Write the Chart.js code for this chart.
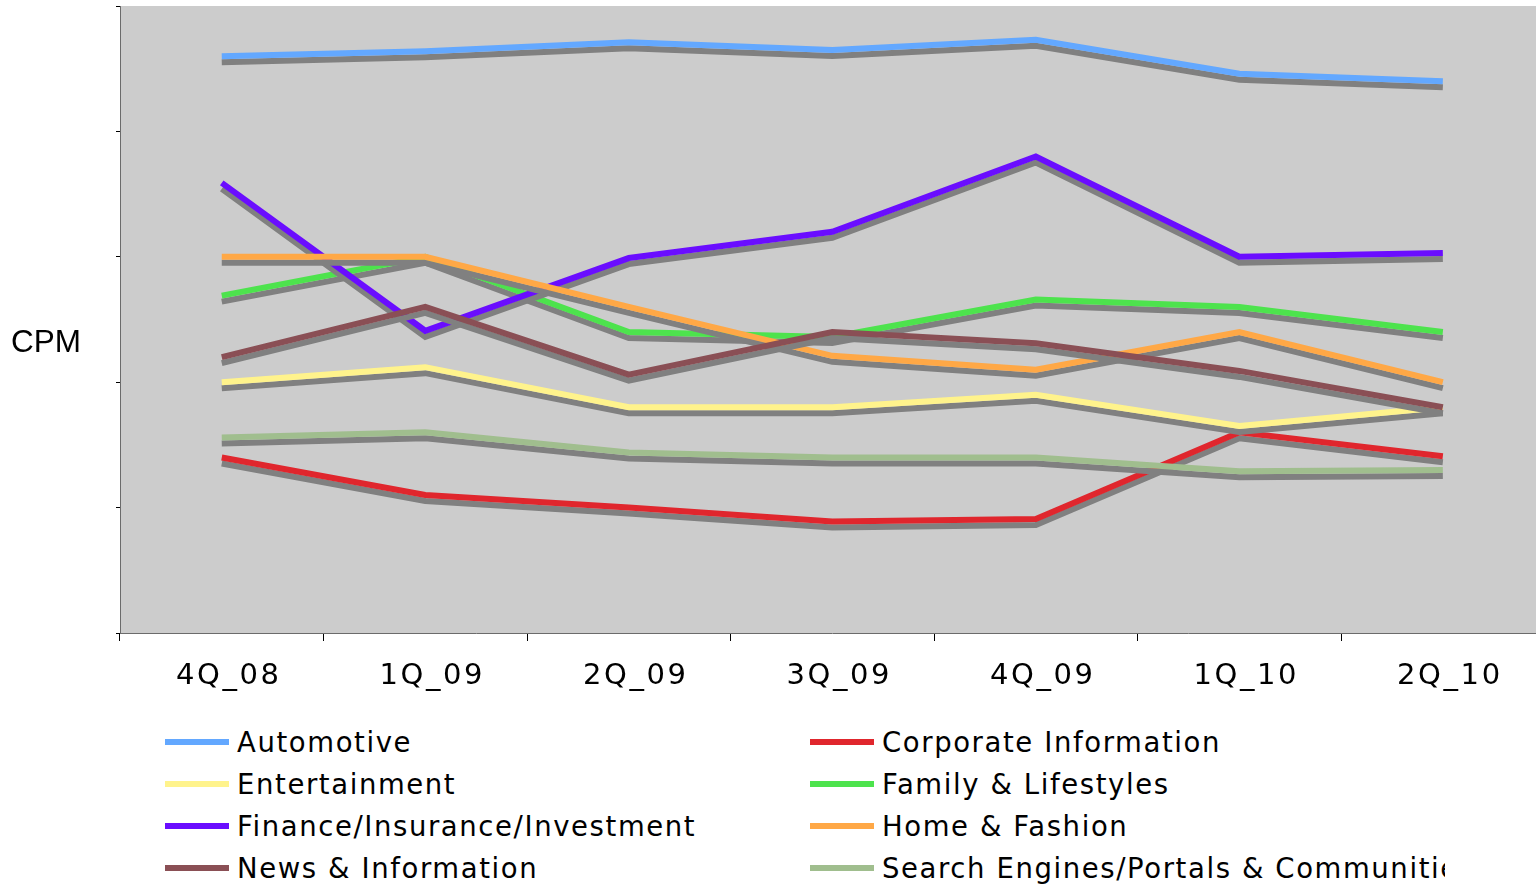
<!DOCTYPE html>
<html><head><meta charset="utf-8">
<script src="https://cdn.jsdelivr.net/npm/chart.js@4.4.1/dist/chart.umd.min.js"></script>
<style>
html,body{margin:0;padding:0;background:#fff;overflow:hidden;width:1536px;height:885px;position:relative;}
#wrap{position:absolute;left:0;top:0;width:1560px;height:700px;}
#legend{position:absolute;left:0;top:721px;width:1445px;height:170px;overflow:hidden;font-family:"DejaVu Sans";font-size:27.5px;letter-spacing:1.6px;color:#000;}
.item{position:absolute;height:42px;display:flex;align-items:center;white-space:nowrap;}
.sw{width:64px;height:6px;margin-right:8px;flex:none;}
</style></head>
<body>
<div id="wrap"><canvas id="c" width="1560" height="700"></canvas></div>
<div id="legend"></div>
<script>
// ---- data ----
const categories = ['4Q_08','1Q_09','2Q_09','3Q_09','4Q_09','1Q_10','2Q_10'];
const automotive    = [4.60, 4.64, 4.71, 4.65, 4.73, 4.46, 4.40];
const corporateInfo = [1.40, 1.10, 1.00, 0.89, 0.91, 1.60, 1.41];
const entertainment = [2.00, 2.12, 1.80, 1.80, 1.90, 1.65, 1.80];
const familyLife    = [2.69, 3.00, 2.40, 2.36, 2.66, 2.60, 2.40];
const finance       = [3.59, 2.41, 2.99, 3.20, 3.80, 3.00, 3.03];
const homeFashion   = [3.00, 3.00, 2.60, 2.21, 2.10, 2.40, 2.00];
const newsInfo      = [2.20, 2.60, 2.06, 2.40, 2.31, 2.09, 1.80];
const searchPortals = [1.56, 1.60, 1.44, 1.40, 1.40, 1.29, 1.30];
const seriesNames = ['Automotive','Corporate Information','Entertainment','Family & Lifestyles',
  'Finance/Insurance/Investment','Home & Fashion','News & Information','Search Engines/Portals & Communities'];
const seriesValues = [automotive, corporateInfo, entertainment, familyLife, finance, homeFashion, newsInfo, searchPortals];
const seriesColors = ['#63A8FF','#E0262D','#FFF38C','#4DE34D','#6A0DFF','#FFA846','#8A4F55','#A0BE8E'];
const yTickValues = [0, 1, 2, 3, 4, 5];
const yTitle = 'CPM';

const datasets = seriesNames.map((n, i) => ({
  label: n,
  data: seriesValues[i],
  borderColor: seriesColors[i],
  backgroundColor: seriesColors[i],
  borderWidth: 6,
  pointRadius: 0,
  pointHoverRadius: 0,
  tension: 0,
  fill: false,
  borderCapStyle: 'butt',
  borderJoinStyle: 'miter',
  order: -i
}));

const shadowPlugin = {
  id: 'shadow',
  beforeDatasetDraw(chart) {
    const ctx = chart.ctx;
    ctx.save();
    ctx.shadowColor = '#808080';
    ctx.shadowOffsetX = 0;
    ctx.shadowOffsetY = 6;
    ctx.shadowBlur = 0;
  },
  afterDatasetDraw(chart) { chart.ctx.restore(); }
};
const bgPlugin = {
  id: 'bg',
  beforeDraw(chart) {
    const {ctx, chartArea: a} = chart;
    ctx.save();
    ctx.fillStyle = '#CCCCCC';
    ctx.fillRect(a.left, a.top, a.right - a.left, a.bottom - a.top);
    ctx.restore();
    ctx.letterSpacing = '2.6px';
  },
  afterDraw(chart) {
    const ctx = chart.ctx;
    ctx.letterSpacing = '0px';
    ctx.save();
    ctx.fillStyle = '#000';
    ctx.font = '31.5px "Liberation Sans", Arial, sans-serif';
    ctx.textAlign = 'left';
    ctx.textBaseline = 'middle';
    ctx.fillText(yTitle, 11, 343);
    ctx.restore();
  }
};

const chart = new Chart(document.getElementById('c'), {
  type: 'line',
  data: { labels: categories, datasets },
  options: {
    responsive: false,
    animation: false,
    events: [],
    layout: { padding: { left: 0, top: 6, right: 15.4, bottom: 0 } },
    plugins: { legend: { display: false }, tooltip: { enabled: false } },
    scales: {
      x: {
        offset: true,
        grid: { offset: true, drawOnChartArea: false, drawTicks: true, tickLength: 8, color: '#000', lineWidth: 1 },
        border: { display: true, color: '#6b6b6b', width: 1 },
        ticks: { color: '#000', font: { family: 'DejaVu Sans', size: 29 }, padding: 18, labelOffset: 7, maxRotation: 0, autoSkip: false },
        afterFit(s) { s.height = 67; }
      },
      y: {
        min: yTickValues[0], max: yTickValues[yTickValues.length - 1],
        afterBuildTicks(s) { s.ticks = yTickValues.map(v => ({ value: v })); },
        grid: { drawOnChartArea: false, drawTicks: true, tickLength: 4, color: '#000', lineWidth: 1 },
        border: { display: true, color: '#6b6b6b', width: 1 },
        ticks: { display: false },
        afterFit(s) { s.width = 120; }
      }
    }
  },
  plugins: [bgPlugin, shadowPlugin]
});

// HTML legend built from the chart's datasets
const leg = document.getElementById('legend');
chart.data.datasets.forEach((d, i) => {
  const col = i % 2, row = Math.floor(i / 2);
  const it = document.createElement('div');
  it.className = 'item';
  it.style.left = (col === 0 ? 165 : 810) + 'px';
  it.style.top = (row * 42) + 'px';
  const sw = document.createElement('span');
  sw.className = 'sw';
  sw.style.background = d.borderColor;
  const tx = document.createElement('span');
  tx.textContent = d.label;
  it.appendChild(sw); it.appendChild(tx);
  leg.appendChild(it);
});
</script>
</body></html>
